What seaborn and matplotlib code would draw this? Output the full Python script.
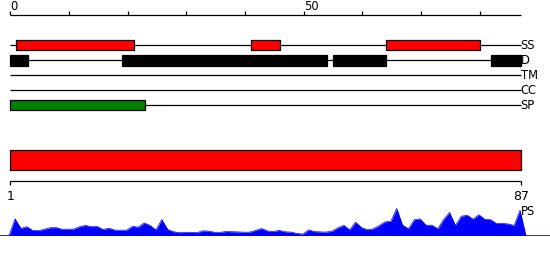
import numpy as np
import matplotlib
matplotlib.use("Agg")
import matplotlib.pyplot as plt
import seaborn as sns

# ---------------- data ----------------
LENGTH = 87
TRACK_NAMES = ["SS", "D", "TM", "CC", "SP"]
SS_START = [1, 41, 64]
SS_END = [21, 46, 80]
D_START = [0, 19, 55, 82]
D_END = [3, 54, 64, 87]
TM_START, TM_END = [], []
CC_START, CC_END = [], []
SP_START = [0]
SP_END = [23]
TOP_TICKS = list(range(0, 81, 10))
TOP_TICK_LABELS = {0: "0", 50: "50"}
DOMAIN_START = 1
DOMAIN_END = 87
PS = [16.7, 7.1, 8.8, 5.1, 4.9, 6.2, 7.8, 7.9, 6.3, 6.3,
      6.4, 8.8, 10.1, 8.8, 9.0, 6.0, 7.3, 5.4, 5.3, 5.3,
      9.1, 8.4, 12.6, 10.0, 5.6, 16.0, 6.0, 3.8, 2.8, 3.0,
      3.2, 2.8, 4.7, 4.4, 3.2, 3.2, 4.0, 3.8, 3.6, 3.3,
      3.4, 5.2, 7.0, 4.5, 4.1, 5.1, 3.7, 3.4, 2.1, 1.4,
      5.6, 3.9, 3.6, 3.4, 4.4, 7.7, 10.2, 5.6, 13.3, 7.9,
      5.7, 6.7, 9.8, 13.6, 14.2, 27.0, 10.4, 6.7, 15.8, 16.6,
      10.3, 10.3, 6.8, 16.1, 23.0, 10.1, 19.2, 20.4, 16.3, 20.8,
      16.2, 15.8, 12.0, 12.2, 11.5, 10.1, 25.3]

# ---------------- style ----------------
sns.set_style("white")
plt.rcParams["font.family"] = ["DejaVu Sans"]
plt.rcParams["text.color"] = "black"

W, H = 550, 260
fig = plt.figure(figsize=(W / 100, H / 100), dpi=100)


def overlay(v0, p0, v1, p1, rect=(0, 0, 1, 1)):
    ax = fig.add_axes(rect)
    s = (p1 - p0) / (v1 - v0)
    ax.set_xlim(v0 - p0 / s, v0 + (W - p0) / s)
    ax.set_axis_off()
    ax.patch.set_alpha(0)
    return ax


LW = 0.9

# ---------- top: ruler + feature tracks ----------
ax = overlay(0, 10.3, LENGTH, 520.7)
ax.set_ylim(H, 0)
ax.hlines(14.5, 0, LENGTH, color="black", lw=LW)
ax.vlines(TOP_TICKS, 10.5, 14.5, color="black", lw=LW)
for t, lab in TOP_TICK_LABELS.items():
    ax.text(t, 9.5, lab, ha="left", va="baseline", fontsize=8.3, color="black")

tracks = [
    ("SS", SS_START, SS_END, "#ff0000", 10.4),
    ("D", D_START, D_END, "#000000", 10.7),
    ("TM", TM_START, TM_END, "#000000", 10.0),
    ("CC", CC_START, CC_END, "#000000", 10.0),
    ("SP", SP_START, SP_END, "#008000", 10.0),
]
for i, (name, starts, ends, col, hgt) in enumerate(tracks):
    y = 45.3 + 15 * i
    ax.hlines(y, 0, LENGTH, color="black", lw=LW, zorder=1)
    if starts:
        ax.broken_barh([(s, e - s) for s, e in zip(starts, ends)],
                       (y - hgt / 2, hgt), facecolors=col,
                       edgecolors="black", lw=LW, zorder=2)
    ax.text(LENGTH, y + 4.0, name, ha="left", va="baseline", fontsize=8.3,
            color="black")

# ---------- middle: domain bar + ruler ----------
axb = overlay(1, 10.3, LENGTH, 520.7)
axb.set_ylim(H, 0)
axb.broken_barh([(DOMAIN_START, DOMAIN_END - DOMAIN_START)], (150.3, 20),
                facecolors="#ff0000", edgecolors="black", lw=LW)
axb.hlines(180.5, DOMAIN_START, DOMAIN_END, color="black", lw=LW)
axb.vlines([DOMAIN_START, DOMAIN_END], 180.5, 184.5, color="black", lw=LW)
axb.text(DOMAIN_START, 200, str(DOMAIN_START), ha="center", va="baseline",
         fontsize=9, color="black")
axb.text(DOMAIN_END, 200, str(DOMAIN_END), ha="center", va="baseline",
         fontsize=9, color="black")
axb.text(DOMAIN_END + 0.1, 215, "PS", ha="left", va="baseline", fontsize=8.3,
         color="black")

# ---------- bottom: PS profile ----------
base_px = 235.5
axp = overlay(1, 15, LENGTH, 520, rect=(0, (H - base_px) / H, 1, 30 / H))
axp.set_ylim(0, 30)
x = np.arange(0, LENGTH + 2)
y = np.array([0.0] + PS + [0.0])
axp.fill_between(x, 0, y, color="#0000ff", lw=0)
sns.lineplot(x=x, y=y, ax=axp, color="#0000ff", lw=0.5)
axp.axhline(0, color="#0000ff", lw=1.2)
axp.set_axis_off()

fig.savefig("out.png", dpi=100)
